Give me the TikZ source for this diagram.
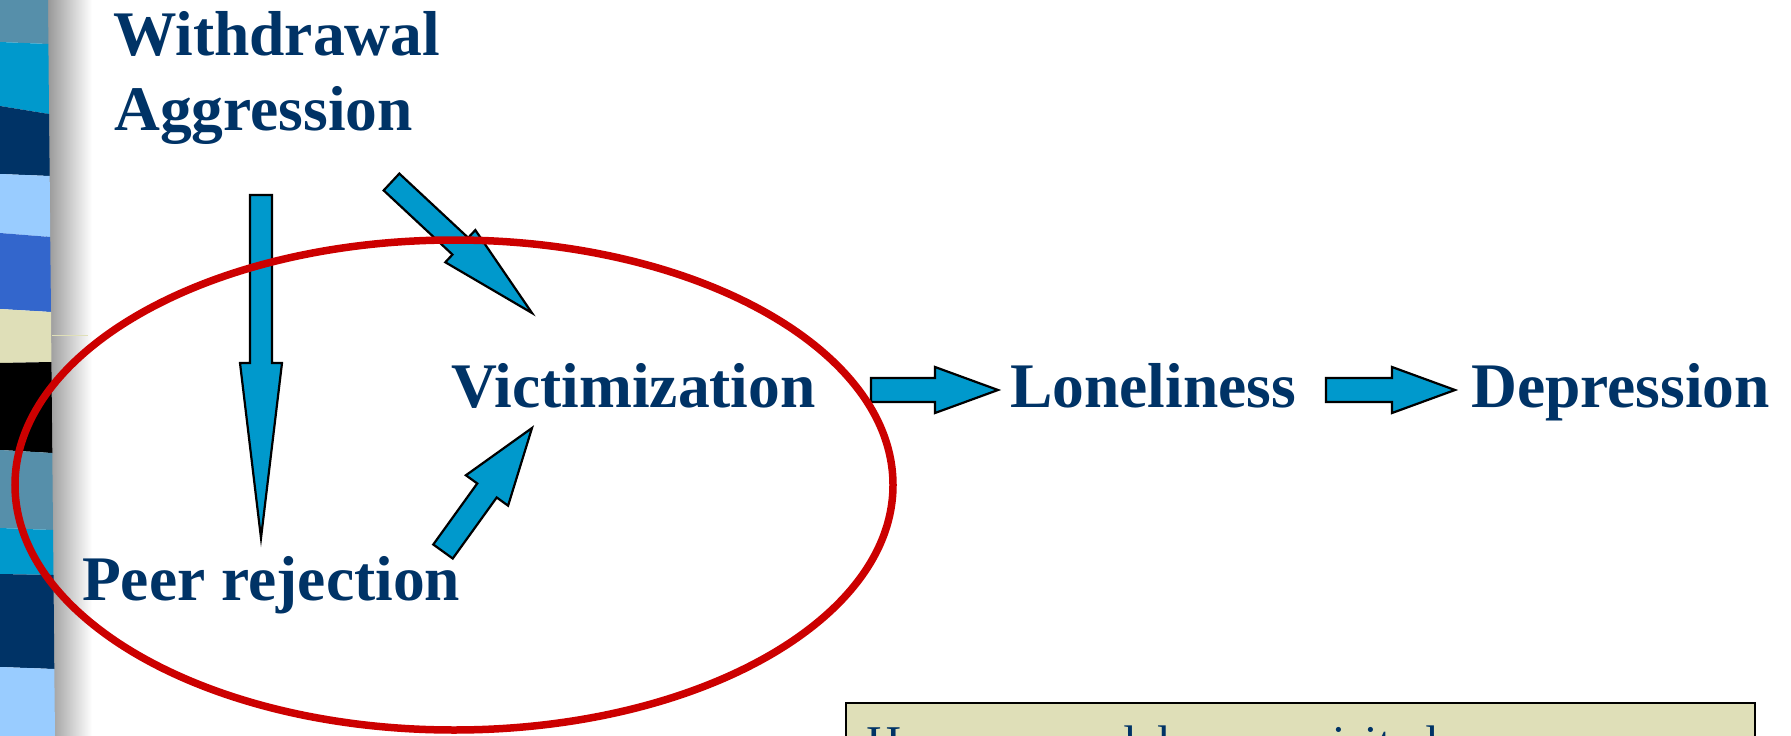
\documentclass[tikz,border=0pt]{standalone}
\usepackage{fontspec}
\setmainfont{Liberation Serif}
\usetikzlibrary{calc}

\definecolor{navy}{HTML}{003366}
\definecolor{arrowblue}{HTML}{0099CC}
\definecolor{loopred}{HTML}{CC0000}
\definecolor{steel}{HTML}{568FAA}
\definecolor{cyanband}{HTML}{0099CC}
\definecolor{skyblue}{HTML}{99CCFF}
\definecolor{royal}{HTML}{3366CC}
\definecolor{beige}{HTML}{DFDFB8}

% block arrow from #1 to #2: half shaft width #3, half head width #4, head length #5
\newcommand{\blockarrow}[5]{%
  \coordinate (ba-h) at ($(#2)!#5!(#1)$);
  \draw[blockshape]
    ($(#1)!#3!90:(#2)$) -- ($(ba-h)!#3!90:(#2)$) -- ($(ba-h)!#4!90:(#2)$)
    -- (#2)
    -- ($(ba-h)!#4!-90:(#2)$) -- ($(ba-h)!#3!-90:(#2)$) -- ($(#1)!#3!-90:(#2)$)
    -- cycle;
}

\tikzset{
  termtext/.style={font=\bfseries\fontsize{63.5}{76}\selectfont, text=navy,
    inner sep=0pt, anchor=base west},
  notetext/.style={font=\fontsize{48.5}{58}\selectfont, text=navy,
    inner sep=0pt, anchor=base west},
  blockshape/.style={fill=arrowblue, draw=black, line width=2.2pt, line join=miter},
  loop/.style={draw=loopred, line width=7.5pt},
  notebox/.style={fill=beige, draw=black, line width=2.5pt},
}

\begin{document}
\begin{tikzpicture}[x=1pt, y=-1pt]
  \useasboundingbox (0,0) rectangle (1791,736);
  \clip (0,0) rectangle (1791,736);
  \fill[white] (0,0) rectangle (1791,736);

  % shadow next to the striped margin
  \shade[left color=black!42, right color=white] (46,0) rectangle (92,736);

  % striped margin
  \fill[steel]    (0,0)   -- (48,0)     -- (48.4,44)  -- (0,42)  -- cycle;
  \fill[cyanband] (0,42)  -- (48.4,44)  -- (49,114)   -- (0,106) -- cycle;
  \fill[navy]     (0,106) -- (49,114)   -- (49.7,176) -- (0,174) -- cycle;
  \fill[skyblue]  (0,174) -- (49.7,176) -- (50.2,237) -- (0,233) -- cycle;
  \fill[royal]    (0,233) -- (50.2,237) -- (51,312)   -- (0,309) -- cycle;
  \fill[beige]    (0,309) -- (51,312)   -- (51.4,362) -- (0,363) -- cycle;
  \fill[black]    (0,363) -- (51.4,362) -- (52.3,453) -- (0,450) -- cycle;
  \fill[steel]    (0,450) -- (52.3,453) -- (53,530)   -- (0,528) -- cycle;
  \fill[cyanband] (0,528) -- (53,530)   -- (53.5,575) -- (0,574) -- cycle;
  \fill[navy]     (0,574) -- (53.5,575) -- (54.3,669) -- (0,667) -- cycle;
  \fill[skyblue]  (0,667) -- (54.3,669) -- (55,736)   -- (0,736) -- cycle;
  \draw[beige, line width=1pt] (52,335) -- (88,335);

  % terms
  \node[termtext] (withdrawal) at (113,55)  {Withdrawal};
  \node[termtext] (aggression) at (114,130) {Aggression};
  \node[termtext] (victim)     at (451,407) {Victimization};
  \node[termtext] (lonely)     at (1010,407) {Loneliness};
  \node[termtext] (depress)    at (1471,407) {Depression};
  \node[termtext] (peer)       at (82,600)  {Peer rejection};

  % arrow end points
  \coordinate (down-tail)  at (261,195);
  \coordinate (down-tip)   at (261,538);
  \coordinate (diag-tail)  at (391.5,182);
  \coordinate (diag-tip)   at (532,313);
  \coordinate (up-tail)    at (443,551.5);
  \coordinate (up-tip)     at (532,428);
  \coordinate (right1-tail) at (871,390);
  \coordinate (right1-tip)  at (998,390);
  \coordinate (right2-tail) at (1326,390);
  \coordinate (right2-tip)  at (1455,390);

  \blockarrow{down-tail}{down-tip}{11pt}{21pt}{175pt}
  \blockarrow{diag-tail}{diag-tip}{11.5pt}{22pt}{98pt}
  \blockarrow{up-tail}{up-tip}{12pt}{26pt}{77pt}
  \blockarrow{right1-tail}{right1-tip}{12pt}{23pt}{63pt}
  \blockarrow{right2-tail}{right2-tip}{12pt}{23pt}{63pt}

  % loop around the peer cluster
  \draw[loop] (454,485) ellipse [x radius=439, y radius=245];

  % note box at the bottom
  \draw[notebox] (846,703) rectangle (1755,800);
  \node[notetext] (note) at (866,759) {How our model was revisited};
\end{tikzpicture}
\end{document}
